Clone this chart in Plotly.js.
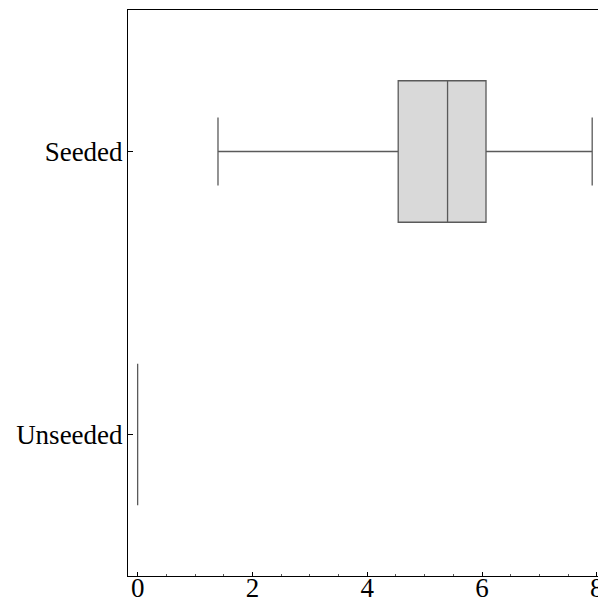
<!DOCTYPE html>
<html>
<head>
<meta charset="utf-8">
<script src="https://cdn.plot.ly/plotly-3.0.1.min.js"></script>
<style>html,body{margin:0;padding:0;overflow:hidden;background:#fff;width:598px;height:607px;}</style>
</head>
<body>
<div id="chart"></div>
<script>
const categories = ['Seeded', 'Unseeded'];
const lowerWhisker = [1.40, 0];
const q1Values = [4.54, 0];
const medianValues = [5.40, 0];
const q3Values = [6.07, 0];
const upperWhisker = [7.92, 0];

const trace = {
  type: 'box',
  orientation: 'h',
  y: categories,
  lowerfence: lowerWhisker,
  q1: q1Values,
  median: medianValues,
  q3: q3Values,
  upperfence: upperWhisker,
  boxpoints: false,
  width: 0.5,
  whiskerwidth: 0.48,
  fillcolor: '#d9d9d9',
  line: {color: '#5a5a5a', width: 1.3},
  hoverinfo: 'skip',
  showlegend: false
};

const layout = {
  width: 640,
  height: 607,
  margin: {l: 128, r: 26, t: 10, b: 31, pad: 0},
  paper_bgcolor: '#ffffff',
  plot_bgcolor: '#ffffff',
  font: {family: '"Liberation Serif", "DejaVu Serif", serif', size: 27, color: '#000'},
  showlegend: false,
  xaxis: {
    range: [-0.168, 8.3],
    tickvals: [0, 2, 4, 6, 8],
    ticktext: ['0', '2', '4', '6', '8'],
    ticks: 'inside',
    ticklen: 4,
    tickcolor: '#000',
    tickwidth: 1,
    ticklabelstandoff: -12,
    minor: {dtick: 0.5, tick0: 0, ticks: 'inside', ticklen: 2, tickcolor: '#555', tickwidth: 1},
    showline: true,
    linecolor: '#000',
    linewidth: 1,
    mirror: true,
    showgrid: false,
    zeroline: false,
    automargin: false
  },
  yaxis: {
    type: 'category',
    categoryorder: 'array',
    categoryarray: ['Unseeded', 'Seeded'],
    range: [-0.5, 1.5],
    ticks: 'inside',
    ticklen: 5,
    tickcolor: '#000',
    ticklabelstandoff: -1,
    showline: true,
    linecolor: '#000',
    linewidth: 1,
    mirror: true,
    showgrid: false,
    zeroline: false,
    automargin: false
  }
};

Plotly.newPlot('chart', [trace], layout, {displayModeBar: false, staticPlot: true});
</script>
</body>
</html>
